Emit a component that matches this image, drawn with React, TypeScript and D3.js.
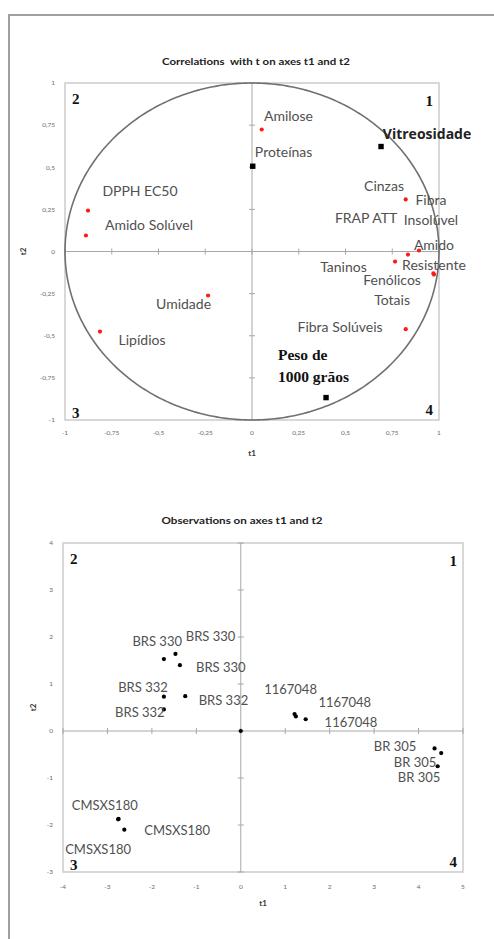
import React from "react";
import * as d3 from "d3";

// ---------- Correlation circle (variables) ----------
const varNames = [
  "Amilose", "Proteínas", "Vitreosidade", "Cinzas", "Fibra Insolúvel", "Amido Resistente",
  "FRAP ATT", "Taninos", "Fenólicos Totais", "Fibra Solúveis", "Peso de 1000 grãos",
  "Umidade", "Lipídios", "DPPH EC50", "Amido Solúvel",
];
const varT1 = [0.052, 0.004, 0.69, 0.822, 0.893, 0.834, 0.765, 0.97, 0.973, 0.822, 0.396, -0.235, -0.813, -0.877, -0.888];
const varT2 = [0.724, 0.506, 0.623, 0.309, 0.006, -0.018, -0.06, -0.13, -0.137, -0.461, -0.867, -0.261, -0.475, 0.243, 0.095];
const varSupplementary = [false, true, true, false, false, false, false, false, false, false, true, false, false, false, false];
// label lines and label anchor (data units)
const varLabelLines = [
  ["Amilose"], ["Proteínas"], ["Vitreosidade"], ["Cinzas"], ["Fibra", "Insolúvel"], ["Amido", "Resistente"],
  ["FRAP ATT"], ["Taninos"], ["Fenólicos", "Totais"], ["Fibra Solúveis"], ["Peso de", "1000 grãos"],
  ["Umidade"], ["Lipídios"], ["DPPH EC50"], ["Amido Solúvel"],
];
const varLabelT1 = [0.195, 0.169, 0.936, 0.706, 0.957, 0.973, 0.61, 0.489, 0.749, 0.471, 0.139, -0.366, -0.588, -0.599, -0.551];
const varLabelT2 = [0.801, 0.588, 0.694, 0.386, 0.303, 0.036, 0.196, -0.095, -0.172, -0.451, -0.611, -0.315, -0.528, 0.356, 0.154];

const corrTicks = [-1, -0.75, -0.5, -0.25, 0, 0.25, 0.5, 0.75, 1];

// ---------- Observations ----------
const obsNames = [
  "BRS 330", "BRS 330", "BRS 330", "BRS 332", "BRS 332", "BRS 332",
  "1167048", "1167048", "1167048", "BR 305", "BR 305", "BR 305",
  "CMSXS180", "CMSXS180", "CMSXS180", "",
];
const obsT1 = [-1.73, -1.47, -1.37, -1.73, -1.25, -1.73, 1.21, 1.24, 1.46, 4.36, 4.51, 4.43, -2.76, -2.62, -2.75, 0];
const obsT2 = [1.53, 1.64, 1.40, 0.73, 0.74, 0.46, 0.36, 0.31, 0.25, -0.37, -0.47, -0.75, -1.88, -2.10, -1.87, 0];
const obsLabelT1 = [-1.88, -0.68, -0.45, -2.2, -0.39, -2.27, 1.12, 2.34, 2.48, 3.47, 3.92, 4.01, -3.06, -1.43, -3.21, 0];
const obsLabelT2 = [1.9, 2.02, 1.36, 0.92, 0.64, 0.4, 0.89, 0.6, 0.18, -0.32, -0.66, -0.99, -1.58, -2.12, -2.52, 0];
const obsXTicks = [-4, -3, -2, -1, 0, 1, 2, 3, 4, 5];
const obsYTicks = [-3, -2, -1, 0, 1, 2, 3, 4];

const fmt = (v: number) => String(v).replace(".", ",");

const LABEL_FONT = "Lato, 'Open Sans', sans-serif";
const LABEL_COLOR = "#505050";
const TICK_COLOR = "#6a6a6a";

function Quadrants({ x0, x1, y0, y1 }: { x0: number; x1: number; y0: number; y1: number }) {
  const st: React.CSSProperties = { fontFamily: "'Liberation Serif', serif", fontWeight: 700, fontSize: 15 };
  return (
    <g fill="#111" style={st}>
      <text x={x0 + 7} y={y0 + 21}>2</text>
      <text x={x1 - 6} y={y0 + 23} textAnchor="end">1</text>
      <text x={x0 + 7} y={y1 - 2}>3</text>
      <text x={x1 - 6} y={y1 - 5} textAnchor="end">4</text>
    </g>
  );
}

function Title({ x, y, w, text }: { x: number; y: number; w: number; text: string }) {
  return (
    <text x={x - w / 2} y={y} textLength={w} lengthAdjust="spacingAndGlyphs" fontFamily={LABEL_FONT} fontWeight={700} fontSize={9.5} fill="#222" style={{ whiteSpace: "pre" }}>
      {text}
    </text>
  );
}

function CorrChart() {
  const x = d3.scaleLinear().domain([-1, 1]).range([65, 439]);
  const y = d3.scaleLinear().domain([-1, 1]).range([420, 83]);
  const circle = d3
    .line<number>()
    .x((a) => x(Math.cos(a)))
    .y((a) => y(Math.sin(a)))(d3.range(0, Math.PI * 2 + 0.01, Math.PI / 180));
  return (
    <g>
      <Title x={256} y={65} w={188} text={"Correlations  with t on axes t1 and t2"} />
      <rect x={x(-1)} y={y(1)} width={x(1) - x(-1)} height={y(-1) - y(1)} fill="none" stroke="#cfcfcf" strokeWidth={1.6} />
      <line x1={x(-1)} x2={x(1)} y1={y(0)} y2={y(0)} stroke="#a8a8a8" strokeWidth={1} />
      <line x1={x(0)} x2={x(0)} y1={y(-1)} y2={y(1)} stroke="#a8a8a8" strokeWidth={1} />
      {corrTicks.map((t) => (
        <g key={"xt" + t}>
          <line x1={x(t)} x2={x(t)} y1={y(0) - 3} y2={y(0) + 3} stroke="#a8a8a8" />
          <line x1={x(0) - 3} x2={x(0) + 3} y1={y(t)} y2={y(t)} stroke="#a8a8a8" />
          <text x={x(t)} y={y(-1) + 15} textAnchor="middle" fontFamily={LABEL_FONT} fontSize={6.5} fill={TICK_COLOR}>{fmt(t)}</text>
          <text x={55} y={y(t) + 2.3} textAnchor="end" fontFamily={LABEL_FONT} fontSize={6.5} fill={TICK_COLOR}>{fmt(t)}</text>
        </g>
      ))}
      <text x={252} y={456} textAnchor="middle" fontFamily={LABEL_FONT} fontWeight={700} fontSize={8} fill="#333">t1</text>
      <text transform={`translate(26,${y(0)}) rotate(-90)`} textAnchor="middle" fontFamily={LABEL_FONT} fontWeight={700} fontSize={8} fill="#333">t2</text>
      <path d={circle || ""} fill="none" stroke="#707070" strokeWidth={1.6} />
      {varNames.map((n, i) =>
        varSupplementary[i] ? (
          <rect key={n} x={x(varT1[i]) - 2.7} y={y(varT2[i]) - 2.7} width={5.4} height={5.4} fill="#000" />
        ) : (
          <circle key={n} cx={x(varT1[i])} cy={y(varT2[i])} r={2.1} fill="#ff1a1a" />
        )
      )}
      {varNames.map((n, i) => {
        const lines = varLabelLines[i];
        const isPeso = n.startsWith("Peso");
        const isVit = n === "Vitreosidade";
        return (
          <text
            key={"l" + n}
            x={x(varLabelT1[i])}
            y={y(varLabelT2[i])}
            textAnchor={isPeso ? "start" : "middle"}
            fontFamily={isPeso ? "'Liberation Serif', serif" : isVit ? "'Open Sans', Lato, sans-serif" : LABEL_FONT}
            fontWeight={isPeso || isVit ? 700 : 400}
            fontSize={isPeso ? 15.5 : isVit ? 14 : 14}
            fill={isPeso ? "#111" : isVit ? "#222" : LABEL_COLOR}
          >
            {lines.map((ln, k) => (
              <tspan key={k} x={x(varLabelT1[i])} dy={k === 0 ? "0.35em" : isPeso ? 22 : 20}>{ln}</tspan>
            ))}
          </text>
        );
      })}
      <Quadrants x0={x(-1)} x1={x(1)} y0={y(1)} y1={y(-1)} />
    </g>
  );
}

function ObsChart() {
  const x = d3.scaleLinear().domain([-4, 5]).range([63, 463]);
  const y = d3.scaleLinear().domain([-3, 4]).range([872, 543]);
  return (
    <g>
      <Title x={242} y={524} w={161} text="Observations on axes t1 and t2" />
      <rect x={x(-4)} y={y(4)} width={x(5) - x(-4)} height={y(-3) - y(4)} fill="none" stroke="#cfcfcf" strokeWidth={1.6} />
      <line x1={x(-4)} x2={x(5)} y1={y(0)} y2={y(0)} stroke="#a8a8a8" strokeWidth={1} />
      <line x1={x(0)} x2={x(0)} y1={y(-3)} y2={y(4)} stroke="#a8a8a8" strokeWidth={1} />
      {obsXTicks.map((t) => (
        <g key={"xt" + t}>
          <line x1={x(t)} x2={x(t)} y1={y(0) - 3} y2={y(0) + 3} stroke="#a8a8a8" />
          <text x={x(t)} y={y(-3) + 17} textAnchor="middle" fontFamily={LABEL_FONT} fontSize={6.5} fill={TICK_COLOR}>{t}</text>
        </g>
      ))}
      {obsYTicks.map((t) => (
        <g key={"yt" + t}>
          <line x1={x(0) - 3} x2={x(0) + 3} y1={y(t)} y2={y(t)} stroke="#a8a8a8" />
          <text x={53} y={y(t) + 2.3} textAnchor="end" fontFamily={LABEL_FONT} fontSize={6.5} fill={TICK_COLOR}>{t}</text>
        </g>
      ))}
      <text x={263} y={906} textAnchor="middle" fontFamily={LABEL_FONT} fontWeight={700} fontSize={8} fill="#333">t1</text>
      <text transform={`translate(36,${(y(4) + y(-3)) / 2}) rotate(-90)`} textAnchor="middle" fontFamily={LABEL_FONT} fontWeight={700} fontSize={8} fill="#333">t2</text>
      {obsNames.map((n, i) => (
        <circle key={"p" + i} cx={x(obsT1[i])} cy={y(obsT2[i])} r={2.1} fill="#000" />
      ))}
      {obsNames.map((n, i) =>
        n ? (
          <text key={"l" + i} x={x(obsLabelT1[i])} y={y(obsLabelT2[i])} dy="0.35em" textAnchor="middle" fontFamily={LABEL_FONT} fontSize={13} fill={LABEL_COLOR}>
            {n}
          </text>
        ) : null
      )}
      <Quadrants x0={x(-4)} x1={x(5)} y0={y(4)} y1={y(-3)} />
    </g>
  );
}

export default function App() {
  return (
    <svg width={494} height={939} style={{ position: "absolute", left: 0, top: 0, background: "#fff" }}>
      <rect x={0} y={0} width={494} height={939} fill="#fff" />
      <line x1={9} x2={494} y1={15} y2={15} stroke="#a0a0a0" strokeWidth={2} />
      <line x1={9} x2={9} y1={14} y2={939} stroke="#a0a0a0" strokeWidth={2} />
      <CorrChart />
      <ObsChart />
    </svg>
  );
}
